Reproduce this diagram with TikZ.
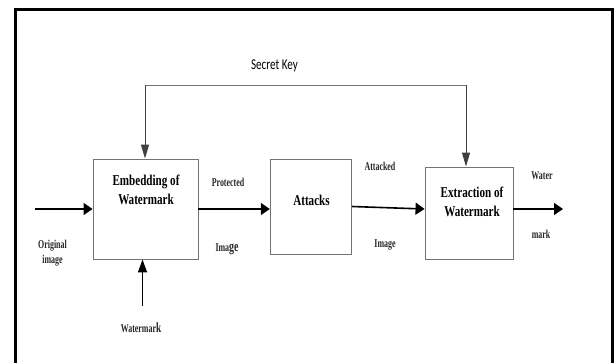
\documentclass[tikz,border=0pt]{standalone}
\usepackage{fontspec}
\setmainfont{Liberation Serif}
\newfontfamily\tagfont[FakeStretch=0.66]{Liberation Serif}
\newfontfamily\blockfont[FakeStretch=0.74]{Liberation Serif}
\newfontfamily\keyfont[FakeStretch=0.74]{Carlito}
\usepackage{tikz}
\usetikzlibrary{arrows.meta,positioning}

\tikzset{
  block/.style={draw=black!55,line width=0.9pt,inner sep=0pt},
  blocktext/.style={font=\blockfont\fontsize{15}{19}\selectfont\bfseries,align=center,inner sep=0pt},
  tag/.style={font=\tagfont\fontsize{12}{15}\selectfont\bfseries,align=center,inner sep=0pt,text=black!85},
  flow/.style={line width=1.6pt,-{Triangle[length=9pt,width=12pt]}},
  upflow/.style={line width=1.6pt,-{Triangle[length=13pt,width=9pt]}},
  keyflow/.style={draw=black!75,line width=1pt,-{Triangle[length=14pt,width=8pt]}}
}

\begin{document}
\begin{tikzpicture}[x=1pt,y=-1pt]
    \useasboundingbox (0,0) rectangle (615,362);
    \clip (0,0) rectangle (615,362);
    % outer frame
    \draw[line width=2.5pt] (15.5,380) -- (15.5,9.5) -- (612.5,9.5) -- (612.5,380);

    % blocks
    \node[block,minimum width=105pt,minimum height=100pt] (embed) at (145.5,209) {};
    \node[block,minimum width=81.5pt,minimum height=95pt] (attacks) at (311,206.5) {};
    \node[block,minimum width=88pt,minimum height=92pt] (extract) at (469,213) {};
    \node[blocktext] (embedtxt) at (146,190) {Embedding of\\Watermark};
    \node[blocktext] (attackstxt) at (311.5,200) {Attacks};
    \node[blocktext] (extracttxt) at (472,202) {Extraction of\\Watermark};

    % end points
    \coordinate (in) at (34.5,209);
    \coordinate (out) at (563,209);
    \coordinate (wm) at (142.5,306);
    \coordinate (kl) at (145,85);
    \coordinate (kr) at (466,85);

    % main flow
    \draw[flow] (in) -- (embed.west);
    \draw[flow] (embed.east) -- (attacks.west |- embed.east);
    \draw[flow] (attacks.east) -- (extract.west |- embed.east);
    \draw[flow] (extract.east |- embed.east) -- (out);
    \draw[upflow] (wm) -- (wm |- embed.south);

    % secret key
    \draw[draw=black!55,line width=1pt] (kl) -- (kr);
    \draw[keyflow] (kl) -- (kl |- embed.north);
    \draw[keyflow] (kr) -- (kr |- extract.north);
    \node[font=\keyfont\fontsize{15}{17}\selectfont] (key) at (274.5,66) {Secret Key};

    % labels
    \node[tag] (orig) at (52.5,253) {Original\\image};
    \node[tag] (prot) at (228,182) {Protected};
    \node[tag] (protimg) at (227,249) {Ima{\fontsize{15}{15}\selectfont ge}};
    \node[tag] (att) at (380,166) {Attacked};
    \node[tag] (attimg) at (385,245) {Image};
    \node[tag] (wout) at (542,176) {Water};
    \node[tag] (mout) at (541,234) {mark};
    \node[tag] (wmtxt) at (141,328) {Watermar{\fontsize{14}{14}\selectfont k}};
\end{tikzpicture}
\end{document}
